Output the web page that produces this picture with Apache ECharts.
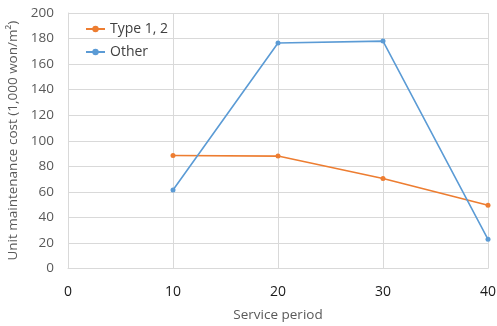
<!DOCTYPE html>
<html><head><meta charset="utf-8">
<script src="https://cdn.jsdelivr.net/npm/echarts@6/dist/echarts.min.js"></script>
<style>html,body{margin:0;padding:0;background:#fff}#c{width:497px;height:326px}</style>
</head><body><div id="c"></div>
<script>
const periods = [10, 20, 30, 40];
const type12 = [88.5, 88, 70.5, 49.5];
const other = [61.5, 176.5, 178, 22.8];
const seriesNames = ['Type 1, 2', 'Other'];
const xTitle = 'Service period';
const yTitle = 'Unit maintenance cost (1,000 won/m²)';

const font = 'Open Sans';
const chart = echarts.init(document.getElementById('c'));
chart.setOption({
  animation: false,
  textStyle: { fontFamily: font },
  grid: { left: 68, top: 13, width: 420, height: 255.5, containLabel: false, outerBoundsMode: 'none' },
  legend: {
    orient: 'vertical', left: 85, top: 22, itemGap: 9, padding: 0,
    itemWidth: 19, itemHeight: 8,
    textStyle: { fontFamily: font, fontSize: 14, color: '#404040' },
    data: seriesNames
  },
  xAxis: {
    type: 'value', min: 0, max: 40, interval: 10,
    name: xTitle, nameLocation: 'middle', nameGap: 40,
    nameTextStyle: { fontFamily: font, fontSize: 13.5, color: '#595959' },
    axisLine: { show: true, lineStyle: { color: '#d9d9d9' } },
    axisTick: { show: false },
    axisLabel: { fontSize: 14, color: '#1a1a1a', margin: 17 },
    splitLine: { show: true, lineStyle: { color: '#d9d9d9' } }
  },
  yAxis: {
    type: 'value', min: 0, max: 200, interval: 20,
    name: yTitle, nameLocation: 'middle', nameGap: 46,
    nameTextStyle: { fontFamily: font, fontSize: 13.5, color: '#595959' },
    axisLine: { show: true, lineStyle: { color: '#d9d9d9' } },
    axisTick: { show: false },
    axisLabel: { fontSize: 13.5, color: '#595959', margin: 14 },
    splitLine: { show: true, lineStyle: { color: '#d9d9d9' } }
  },
  series: [
    { name: seriesNames[0], type: 'line', data: periods.map((p, i) => [p, type12[i]]),
      symbol: 'circle', symbolSize: 5, color: '#ed7d31', lineStyle: { width: 1.6, color: '#ed7d31' }, itemStyle: { color: '#ed7d31' } },
    { name: seriesNames[1], type: 'line', data: periods.map((p, i) => [p, other[i]]),
      symbol: 'circle', symbolSize: 5, color: '#5b9bd5', lineStyle: { width: 1.6, color: '#5b9bd5' }, itemStyle: { color: '#5b9bd5' } }
  ]
});
</script></body></html>
